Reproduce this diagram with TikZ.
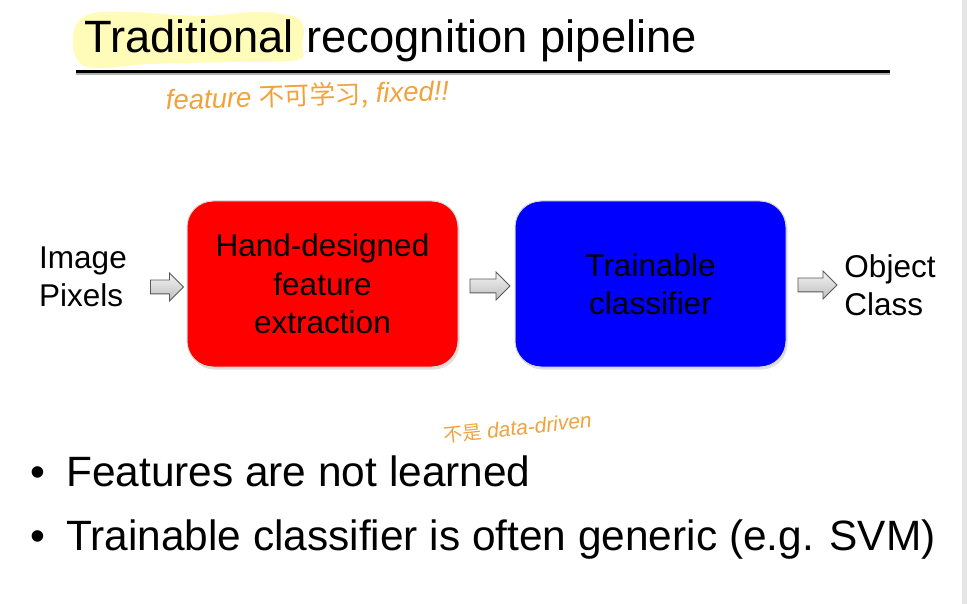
\documentclass[tikz,border=0pt]{standalone}
\usepackage{fontspec}
\setmainfont{Liberation Sans}
\newfontfamily\cjk{Noto Sans CJK SC}
\usetikzlibrary{shapes.arrows,shadows}
\definecolor{hand}{HTML}{F2A23A}
\definecolor{hilite}{HTML}{FFFBB8}
\tikzset{
  box/.style={rounded corners=26pt, minimum width=271pt, minimum height=166pt, draw=white!85!black, line width=1pt, align=center, font=\fontsize{31.5}{38.5}\selectfont, drop shadow={shadow xshift=1.5pt, shadow yshift=-2.5pt, fill=black!25}},
  lbl/.style={align=left, font=\fontsize{31.5}{38.5}\selectfont, inner sep=0pt},
  blk/.style={single arrow, draw=black!65, line width=0.8pt, top color=white!95!black, bottom color=black!25, minimum height=34pt, inner xsep=0pt, inner ysep=6.5pt, single arrow head extend=7pt, font=\fontsize{1}{1}\selectfont},
  handw/.style={text=hand, font=\fontsize{27.5}{29}\selectfont\itshape, inner sep=0pt},
  bul/.style={anchor=base west, font=\fontsize{42.4}{50}\selectfont, inner sep=0pt},
  dot/.style={anchor=base, font=\fontsize{42.4}{50}\selectfont, inner sep=0pt}
}
\begin{document}
\begin{tikzpicture}[x=1pt,y=-1pt]
\useasboundingbox (0,0) rectangle (967,604);
\fill[white] (0,0) rectangle (967,604);
\fill[black!10] (962,0) rectangle (967,604);
% highlighter
\fill[hilite] plot[smooth cycle, tension=0.6] coordinates {(74,30) (90,14) (130,12) (200,16) (260,12) (300,20) (302,45) (297,60) (230,62) (150,64) (95,68) (76,58)};
% title
\node[anchor=base west, inner sep=0pt, font=\fontsize{45.3}{50}\selectfont] (title) at (84,53) {Traditional recognition pipeline};
\fill[black!30] (76,73) rectangle (890,75);
\fill[black] (76,70) rectangle (890,73.5);
% handwriting
\node[handw, anchor=base west, rotate=2] (note1) at (166,110) {feature {\cjk\upshape\fontsize{25.5}{26}\selectfont 不可学习,} fixed!!};
\node[handw, anchor=base west, rotate=6, font=\fontsize{21}{23}\selectfont\itshape] (note2) at (444,443) {{\cjk\upshape\fontsize{19}{20}\selectfont 不是} data-driven};
% boxes
\node[box, fill=red] (fe) at (322.5,284) {Hand-designed\\feature\\extraction};
\node[box, fill=blue] (cl) at (650.5,284) {Trainable\\classifier};
\node[lbl, anchor=center] (img) at (83,277) {Image\\Pixels};
\node[lbl, anchor=center] (obj) at (890,285) {Object\\Class};
% arrows
\node[blk, minimum height=33pt] (a1) at (163.5,287) {};
\node[blk, minimum height=40pt] (a2) at (486.5,286) {};
\node[blk, minimum height=39pt] (a3) at (814,285) {};
% bullets
\node[dot] (d1) at (38,486) {\textbullet};
\node[bul] (b1) at (66,486) {Features are not learned};
\node[dot] (d2) at (38,550) {\textbullet};
\node[bul] (b2) at (66,550) {Trainable classifier is often generic (e.g. SVM)};
\end{tikzpicture}
\end{document}
